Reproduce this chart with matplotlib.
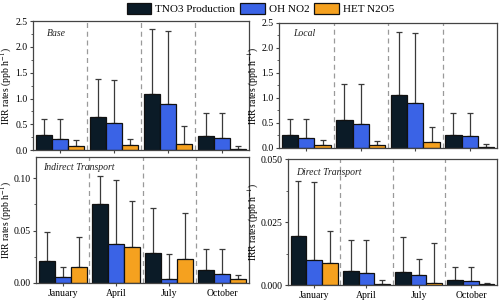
import matplotlib
matplotlib.use('Agg')
import matplotlib.pyplot as plt
from matplotlib.ticker import AutoMinorLocator
from matplotlib.transforms import blended_transform_factory
import numpy as np

plt.rcParams['font.family'] = ['Liberation Serif', 'DejaVu Serif']
plt.rcParams['mathtext.fontset'] = 'stix'

MONTHS = ['January', 'April', 'July', 'October']
SERIES = ['TNO3 Production', 'OH NO2', 'HET N2O5']
COLORS = ['#0b1b27', '#3a63e6', '#f5a11f']

# bar heights / error-bar tops per panel, one row per series
base_vals = [[0.30, 0.65, 1.08, 0.27],
             [0.21, 0.52, 0.89, 0.23],
             [0.08, 0.09, 0.12, 0.025]]
base_tops = [[0.61, 1.37, 2.34, 0.72],
             [0.60, 1.36, 2.31, 0.72],
             [0.19, 0.21, 0.47, 0.08]]

local_vals = [[0.26, 0.56, 1.05, 0.26],
              [0.19, 0.48, 0.89, 0.23],
              [0.06, 0.06, 0.11, 0.02]]
local_tops = [[0.57, 1.28, 2.31, 0.70],
              [0.57, 1.28, 2.29, 0.70],
              [0.15, 0.13, 0.42, 0.07]]

indirect_vals = [[0.021, 0.075, 0.0284, 0.0128],
                 [0.0053, 0.0375, 0.0038, 0.0088],
                 [0.0156, 0.0347, 0.0228, 0.0040]]
indirect_tops = [[0.049, 0.1016, 0.071, 0.032],
                 [0.0156, 0.098, 0.028, 0.032],
                 [0.0434, 0.078, 0.0666, 0.0072]]

direct_vals = [[0.0194, 0.0056, 0.0050, 0.0020],
               [0.0099, 0.0049, 0.0041, 0.0016],
               [0.0087, 0.0004, 0.0007, 0.0003]]
direct_tops = [[0.0413, 0.0179, 0.0190, 0.0070],
               [0.0409, 0.0179, 0.0102, 0.0070],
               [0.0213, 0.0020, 0.0167, 0.0009]]

# title, vals, tops, ylim, yticks, fmt, rect, show month labels, title pos, ylabel x
PANELS = [
    ('Base', base_vals, base_tops, (0, 2.5), [0, 0.5, 1.0, 1.5, 2.0, 2.5], '%.1f',
     [0.066, 0.503, 0.432, 0.427], False, (0.065, 0.905), 0.029),
    ('Local', local_vals, local_tops, (0, 2.5), [0, 0.5, 1.0, 1.5, 2.0, 2.5], '%.1f',
     [0.558, 0.510, 0.436, 0.414], False, (0.065, 0.915), 0.522),
    ('Indirect Transport', indirect_vals, indirect_tops, (0, 0.12), [0, 0.05, 0.10], '%.2f',
     [0.072, 0.063, 0.426, 0.417], True, (0.035, 0.915), 0.029),
    ('Direct Transport', direct_vals, direct_tops, (0, 0.05), [0, 0.025, 0.05], '%.3f',
     [0.576, 0.056, 0.418, 0.417], True, (0.04, 0.895), 0.522),
]

W = 0.3
EDGE = '#444444'


def draw_panel(fig, title, vals, tops, ylim, yticks, fmt, rect, xlabels, tpos, ylx):
    ax = fig.add_axes(rect)
    x = np.arange(len(MONTHS))
    for i, (name, c) in enumerate(zip(SERIES, COLORS)):
        v = np.array(vals[i])
        t = np.array(tops[i])
        ax.bar(x + (i - 1) * W, v, W, color=c, edgecolor='#111111', linewidth=0.9,
               label=name, zorder=2)
        ax.errorbar(x + (i - 1) * W, v, yerr=[np.zeros_like(v), t - v], fmt='none',
                    ecolor='#3a3a3a', elinewidth=0.9, capsize=2.5, capthick=0.9, zorder=1)
    for s in (0.5, 1.5, 2.5):
        ax.axvline(s, color='#9a9a9a', ls=(0, (4, 3)), lw=0.9, zorder=0)
    ax.set_xlim(-0.5, 3.5)
    ax.set_ylim(*ylim)
    ax.set_yticks(yticks)
    ax.set_yticklabels([fmt % t for t in yticks])
    ax.yaxis.set_minor_locator(AutoMinorLocator(2))
    ax.set_xticks(x)
    if xlabels:
        ax.set_xticklabels(MONTHS)
    else:
        ax.set_xticklabels([])
    ax.tick_params(axis='both', which='major', labelsize=7, length=2.5, width=0.8,
                   color=EDGE, pad=1.5)
    ax.tick_params(axis='y', which='minor', length=1.5, width=0.6, color=EDGE)
    for sp in ax.spines.values():
        sp.set_color(EDGE)
        sp.set_linewidth(0.9)
    ax.set_ylabel('IRR rates (ppb h$^{-1}$)', fontsize=7)
    ax.yaxis.set_label_coords(ylx, 0.5,
                              transform=blended_transform_factory(fig.transFigure, ax.transAxes))
    ax.text(tpos[0], tpos[1], title, transform=ax.transAxes, fontsize=7, style='italic',
            ha='left', va='center', color='#222222')
    return ax


fig = plt.figure(figsize=(5.0, 3.02), dpi=100)
axes = [draw_panel(fig, *p) for p in PANELS]

handles, labels = axes[0].get_legend_handles_labels()
fig.legend(handles, labels, loc='upper left', bbox_to_anchor=(0.254, 0.99), ncol=3,
           frameon=False, fontsize=8, handlelength=2.2, handleheight=1.2,
           handletextpad=0.35, columnspacing=0.45, borderpad=0, borderaxespad=0)

fig.savefig('out.png', dpi=100)
